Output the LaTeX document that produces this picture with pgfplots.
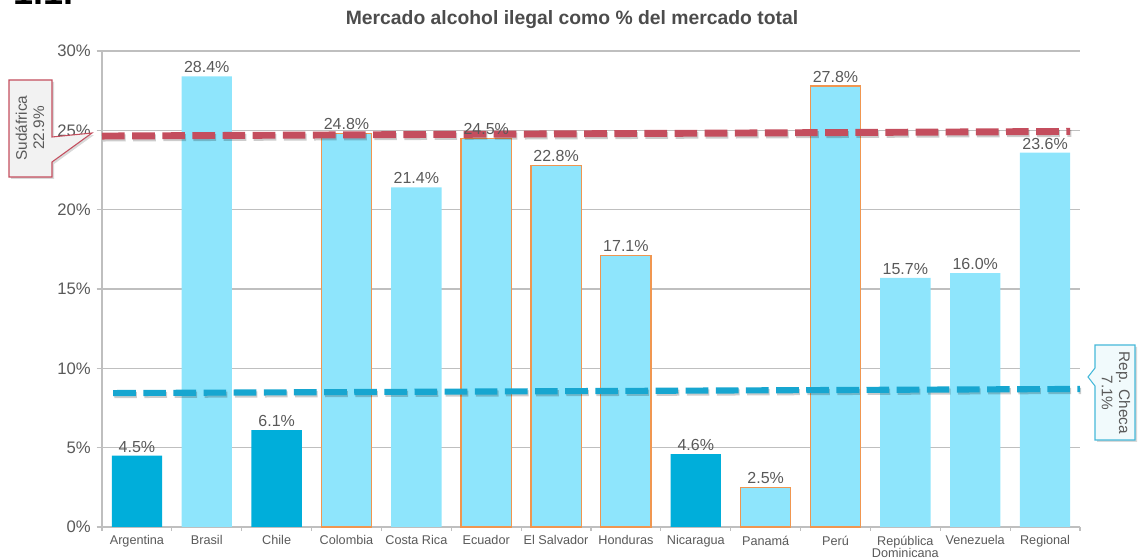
\documentclass[border=0pt]{standalone}
\usepackage{pgfplots}
\pgfplotsset{compat=1.18}
\usepackage{fontspec}
\setmainfont{Liberation Sans}
\usetikzlibrary{shadows}
\definecolor{darkb}{RGB}{0,174,218}
\definecolor{lightb}{RGB}{142,229,252}
\definecolor{orng}{RGB}{240,150,80}
\definecolor{redl}{RGB}{196,78,94}
\definecolor{bluel}{RGB}{23,166,208}
\definecolor{txt}{RGB}{89,89,89}
\definecolor{gridc}{RGB}{191,191,191}
\begin{document}
\begin{tikzpicture}
\useasboundingbox (0pt,0pt) rectangle (855pt,-419.25pt);
\begin{axis}[
  at={(76.5pt,-395.25pt)}, anchor=south west,
  scale only axis, width=733.5pt, height=357pt,
  xmin=-0.5, xmax=13.5, ymin=0, ymax=30,
  axis x line*=bottom, axis y line*=left,
  axis line style={draw=gridc, line width=0.9pt},
  xtick={0,...,13},
  xticklabels={Argentina,Brasil,Chile,Colombia,Costa Rica,Ecuador,El Salvador,Honduras,Nicaragua,Panamá,Perú,{República\\[-2pt]Dominicana},Venezuela,Regional},
  x tick label style={font=\fontsize{9.5pt}{11pt}\selectfont, text=txt, align=center, anchor=north, yshift=1pt},
  major x tick style={draw=none},
  minor xtick={-0.5,0.5,...,13.5},
  minor x tick style={draw=gridc, line width=0.9pt},
  minor tick length=3pt,
  tick align=outside,
  ytick={0,5,...,30},
  yticklabels={0\%,5\%,10\%,15\%,20\%,25\%,30\%},
  y tick label style={font=\fontsize{12.5pt}{14pt}\selectfont, text=txt, xshift=-1pt},
  major y tick style={draw=gridc, line width=0.9pt},
  major tick length=4pt,
  ymajorgrids, grid style={draw=gridc, line width=0.8pt},
  clip=false,
  /pgf/number format/assume math mode=true,
  nodes near coords={\pgfmathprintnumber[fixed,fixed zerofill,precision=1]{\pgfplotspointmeta}\%},
  every node near coord/.append style={font=\fontsize{12pt}{14pt}\selectfont, text=txt, yshift=-1pt},
]
\addplot[ybar, bar width=0.72, bar shift=0, fill=darkb, draw=none] coordinates {(0,4.5) (2,6.1) (8,4.6)};
\addplot[ybar, bar width=0.72, bar shift=0, fill=lightb, draw=none] coordinates {(1,28.4) (4,21.4) (11,15.7) (12,16.0) (13,23.6)};
\addplot[ybar, bar width=0.72, bar shift=0, fill=lightb, draw=orng, line width=0.9pt] coordinates {(3,24.8) (5,24.5) (6,22.8) (7,17.1) (9,2.5) (10,27.8)};
\addplot[draw=black, opacity=0.2, line width=5.2pt, dash pattern=on 17pt off 5.6pt, nodes near coords={}, mark=none, yshift=-1.5pt, xshift=0.8pt] coordinates {(-0.5,24.64) (13.36,24.93)};
\addplot[draw=redl, line width=5.2pt, dash pattern=on 17pt off 5.6pt, nodes near coords={}, mark=none] coordinates {(-0.5,24.64) (13.36,24.93)};
\addplot[draw=black, opacity=0.2, line width=4.6pt, dash pattern=on 17pt off 5.6pt, nodes near coords={}, mark=none, yshift=-1.5pt, xshift=0.8pt] coordinates {(-0.34,8.44) (13.5,8.70)};
\addplot[draw=bluel, line width=4.6pt, dash pattern=on 17pt off 5.6pt, nodes near coords={}, mark=none] coordinates {(-0.34,8.44) (13.5,8.70)};
\end{axis}
\begin{scope}[x=0.75pt,y=-0.75pt]
\node[anchor=base west, inner sep=0pt, font=\bfseries\fontsize{27pt}{30pt}\selectfont] at (13,5) {1.1.};
\node[font=\bfseries\fontsize{14.5pt}{17pt}\selectfont, text=txt!85!black] at (572,20) {Mercado alcohol ilegal como \% del mercado total};
% Sudafrica callout
\draw[draw=redl, line width=0.8pt, fill=black!5, drop shadow={shadow xshift=1.5pt, shadow yshift=-1.5pt, opacity=0.3}]
  (9,80) -- (52,80) -- (52,137) -- (92,133) -- (52,162) -- (52,177) -- (9,177) -- cycle;
\node[rotate=90, align=center, font=\fontsize{11.5pt}{13pt}\selectfont, text=txt] at (30,128) {Sudáfrica\\22.9\%};
% Rep Checa callout
\draw[draw=bluel!80, line width=0.8pt, fill=bluel!6, drop shadow={shadow xshift=1.5pt, shadow yshift=-1.5pt, opacity=0.3}]
  (1095,345) -- (1135,345) -- (1135,440) -- (1095,440) -- (1095,386) -- (1088,377) -- (1095,368) -- cycle;
\node[rotate=-90, align=center, font=\fontsize{11.5pt}{13pt}\selectfont, text=txt] at (1116,393) {Rep. Checa\\7.1\%};
\end{scope}
\end{tikzpicture}
\end{document}
